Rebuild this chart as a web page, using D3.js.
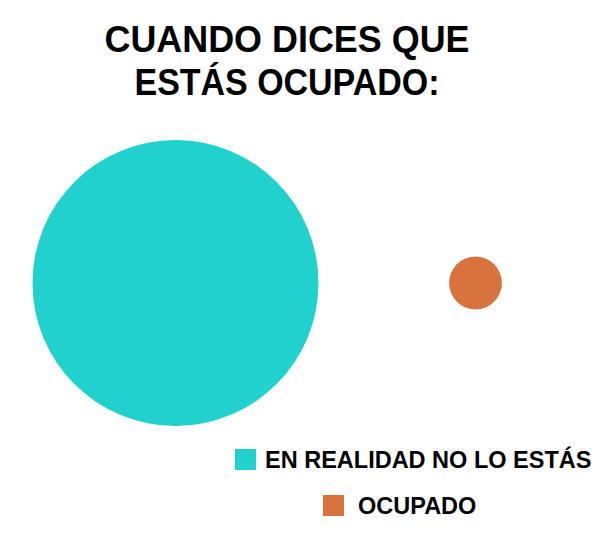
<!DOCTYPE html>
<html><head><meta charset="utf-8">
<script src="https://cdn.jsdelivr.net/npm/d3@7"></script>
<style>html,body{margin:0;padding:0;background:#fff;}svg{display:block;}</style>
</head><body>
<script>
const titleLines = ["CUANDO DICES QUE", "ESTÁS OCUPADO:"];
const categories = ["EN REALIDAD NO LO ESTÁS", "OCUPADO"];
const values = [96.7, 3.3];
const colors = ["#20D1CD", "#D9733E"];

const W = 605, H = 551;
const svg = d3.select("body").append("svg").attr("width", W).attr("height", H);
const font = "'Liberation Sans', Arial, Helvetica, sans-serif";

const titleLayout = [{y: 52, len: 365}, {y: 95, len: 305}];
svg.selectAll("text.title").data(titleLines).join("text")
  .attr("class", "title")
  .attr("x", 287).attr("y", (d, i) => titleLayout[i].y)
  .attr("text-anchor", "middle")
  .attr("font-family", font).attr("font-weight", "bold").attr("font-size", 36)
  .attr("textLength", (d, i) => titleLayout[i].len)
  .attr("lengthAdjust", "spacingAndGlyphs")
  .attr("fill", "#000")
  .text(d => d);

const x = d3.scalePoint().domain(categories).range([175.5, 475.5]);
const r = d3.scaleSqrt().domain([0, d3.max(values)]).range([0, 143]);

svg.selectAll("circle.bubble").data(categories).join("circle")
  .attr("class", "bubble")
  .attr("cx", d => x(d)).attr("cy", 283)
  .attr("r", (d, i) => r(values[i]))
  .attr("fill", (d, i) => colors[i]);

const legendPos = [{sx: 235, tx: 265, y: 449}, {sx: 323, tx: 358, y: 495}];
const lg = svg.selectAll("g.legend").data(categories).join("g").attr("class", "legend");
lg.append("rect")
  .attr("x", (d, i) => legendPos[i].sx).attr("y", (d, i) => legendPos[i].y)
  .attr("width", 21).attr("height", 21)
  .attr("fill", (d, i) => colors[i]);
lg.append("text")
  .attr("x", (d, i) => legendPos[i].tx).attr("y", (d, i) => legendPos[i].y + 19)
  .attr("font-family", font).attr("font-weight", "bold").attr("font-size", 23.5)
  .attr("fill", "#000")
  .text(d => d);
</script>
</body></html>
